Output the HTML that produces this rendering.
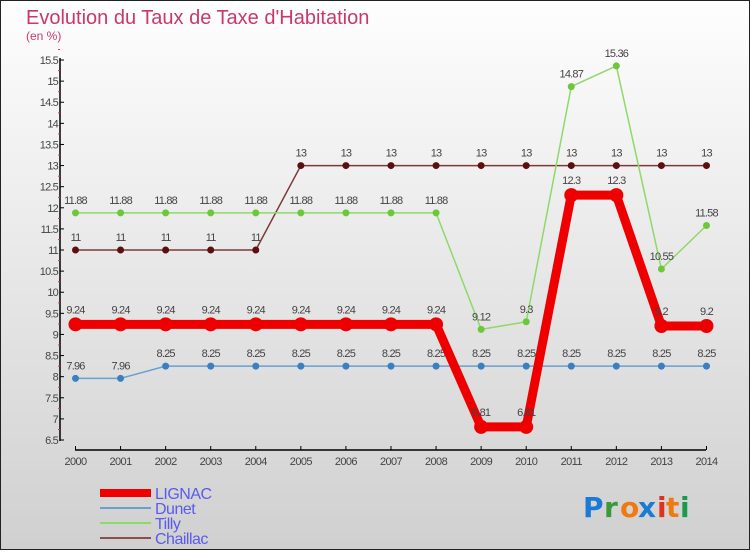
<!DOCTYPE html>
<html><head><meta charset="utf-8">
<style>
html,body{margin:0;padding:0}
body{width:750px;height:550px;overflow:hidden;font-family:"Liberation Sans","DejaVu Sans",sans-serif}
</style></head>
<body>
<svg id="chart" width="750" height="550" xmlns="http://www.w3.org/2000/svg">
<defs>
<linearGradient id="bg" x1="0" y1="0" x2="0" y2="1">
<stop offset="0" stop-color="#fefefe"/><stop offset="1" stop-color="#d0d0d0"/>
</linearGradient>
</defs>
<rect x="0.5" y="0.5" width="749" height="549" fill="url(#bg)" stroke="#222" stroke-width="1"/>
<text x="26" y="24" font-size="20" fill="#c8386a">Evolution du Taux de Taxe d'Habitation</text>
<text x="26" y="40" font-size="12" fill="#c8386a">(en %)</text>
<g id="axes"></g>
<g id="series"></g>
<g id="legend"></g>
<g font-size="28" font-weight="bold" font-family="'DejaVu Sans',sans-serif">
<text x="583" y="517" fill="#1a7ad4">P</text><text x="604" y="517" fill="#3a9a3a">r</text><text x="620" y="517" fill="#f07a10">o</text><text x="638" y="517" fill="#1a7ad4">x</text><text x="657" y="517" fill="#e03020">i</text><text x="666" y="517" fill="#f07a10">t</text><text x="680" y="517" fill="#1a9a4a">i</text>
</g>
</svg>
<script>
const years=[2000,2001,2002,2003,2004,2005,2006,2007,2008,2009,2010,2011,2012,2013,2014];
const lignac=[9.24,9.24,9.24,9.24,9.24,9.24,9.24,9.24,9.24,6.81,6.81,12.3,12.3,9.2,9.2];
const dunet=[7.96,7.96,8.25,8.25,8.25,8.25,8.25,8.25,8.25,8.25,8.25,8.25,8.25,8.25,8.25];
const tilly=[11.88,11.88,11.88,11.88,11.88,11.88,11.88,11.88,11.88,9.12,9.3,14.87,15.36,10.55,11.58];
const chaillac=[11,11,11,11,11,13,13,13,13,13,13,13,13,13,13];
const yTicks=[6.5,7,7.5,8,8.5,9,9.5,10,10.5,11,11.5,12,12.5,13,13.5,14,14.5,15,15.5];
const NS="http://www.w3.org/2000/svg";
const x=i=>75.5+i*45.07;
const y=v=>440-(v-6.5)*42.22;
function mk(tag,attrs,parent){const e=document.createElementNS(NS,tag);for(const k in attrs)e.setAttribute(k,attrs[k]);parent.appendChild(e);return e;}
const axes=document.getElementById('axes');
let ya=mk('line',{x1:60,y1:58,x2:60,y2:441,stroke:'#000','stroke-width':1.5},axes);


yTicks.forEach(t=>{
 mk('line',{x1:60,y1:y(t),x2:64,y2:y(t),stroke:'#000'},axes);
 mk('line',{x1:58,y1:y(t)-10.5,x2:60,y2:y(t)-10.5,stroke:'#e33'},axes);
 const tx=mk('text',{x:58,y:y(t)+4,'text-anchor':'end','font-size':11,fill:'#444','letter-spacing':'-0.8'},axes);
 tx.textContent=String(t);
 
 
});
let xa=mk('line',{x1:75,y1:450,x2:706,y2:450,stroke:'#000','stroke-width':1.5},axes);


years.forEach((yr,i)=>{
 mk('line',{x1:x(i),y1:446,x2:x(i),y2:450,stroke:'#000'},axes);
 const tx=mk('text',{x:x(i),y:465,'text-anchor':'middle','font-size':11,fill:'#444','letter-spacing':'-0.6'},axes);
 tx.textContent=String(yr);
 
 
});
const ser=document.getElementById('series');
const defs=[
 {name:'chaillac',data:chaillac,color:'#7a3a3a',dot:'#5a1010',w:1.5,r:3.5},
 {name:'tilly',data:tilly,color:'#8fd86a',dot:'#6cc83a',w:1.5,r:3.5},
 {name:'dunet',data:dunet,color:'#6aa0d0',dot:'#3a80c0',w:1.5,r:3.5},
 {name:'lignac',data:lignac,color:'#ee0000',dot:'#ee0000',w:9,r:7}
];
defs.forEach(s=>{
 const g=mk('g',{},ser);
 
 
 const pts=s.data.map((v,i)=>x(i)+','+y(v)).join(' ');
 const pl=mk('polyline',{points:pts,fill:'none',stroke:s.color,'stroke-width':s.w,'stroke-linejoin':'round'},g);
 
 
 s.data.forEach((v,i)=>{
  const c=mk('circle',{cx:x(i),cy:y(v),r:s.r,fill:s.dot},g);
  
  
  const t=mk('text',{x:x(i),y:y(v)-(s.name==='lignac'?11:9),'text-anchor':'middle','font-size':11,fill:'#444','letter-spacing':'-0.8'},g);
  t.textContent=String(v);
  
  
 });
});
const leg=document.getElementById('legend');
const items=[['LIGNAC','#ee0000',8],['Dunet','#6aa0d0',2],['Tilly','#8fd86a',2],['Chaillac','#8a5050',2]];
items.forEach((it,k)=>{
 const cy=493+k*15;
 const ln=mk('line',{x1:100,y1:cy,x2:151,y2:cy,stroke:it[1],'stroke-width':it[2]},leg);
 
 
 const t=mk('text',{x:155,y:cy+6,'font-size':16,fill:'#5a5aee','letter-spacing':'-0.5'},leg);
 t.textContent=it[0];
 
 
});
</script>
</body></html>
